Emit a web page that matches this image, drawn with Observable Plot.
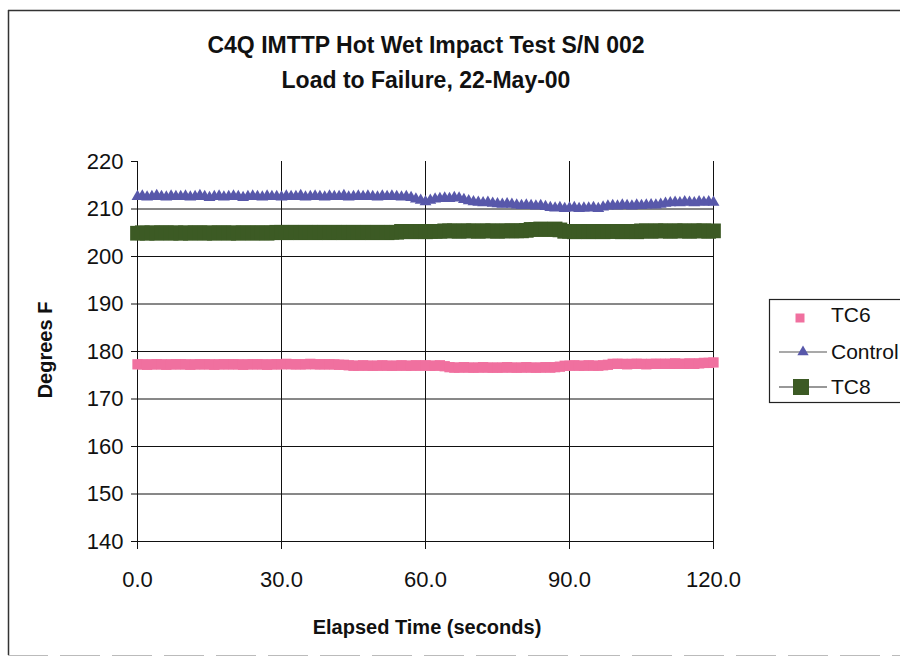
<!DOCTYPE html>
<html>
<head>
<meta charset="utf-8">
<script src="https://cdn.jsdelivr.net/npm/d3@7"></script>
<script src="https://cdn.jsdelivr.net/npm/@observablehq/plot@0.6"></script>
<style>
  body { margin: 0; background: #fff; }
  #wrap { position: relative; width: 900px; height: 662px; overflow: hidden; background: #fff;
          font-family: "Liberation Sans", Arial, sans-serif; }
  #wrap > svg { position: absolute; left: 0; top: 0; }
</style>
</head>
<body>
<div id="wrap"></div>
<script>
// ---- data ----
const titleLines = ["C4Q IMTTP Hot Wet Impact Test S/N 002", "Load to Failure, 22-May-00"];
const xLabel = "Elapsed Time (seconds)";
const yLabel = "Degrees F";
const seriesNames = ["TC6", "Control", "TC8"];
const xTicks = [0, 30, 60, 90, 120];
const yTicks = [140, 150, 160, 170, 180, 190, 200, 210, 220];

const time = [
  0,1,2,3,4,5,6,7,8,9,
  10,11,12,13,14,15,16,17,18,19,
  20,21,22,23,24,25,26,27,28,29,
  30,31,32,33,34,35,36,37,38,39,
  40,41,42,43,44,45,46,47,48,49,
  50,51,52,53,54,55,56,57,58,59,
  60,61,62,63,64,65,66,67,68,69,
  70,71,72,73,74,75,76,77,78,79,
  80,81,82,83,84,85,86,87,88,89,
  90,91,92,93,94,95,96,97,98,99,
  100,101,102,103,104,105,106,107,108,109,
  110,111,112,113,114,115,116,117,118,119,120
];

const tc6 = [
  177.3,177.3,177.2,177.3,177.3,177.3,177.2,177.3,177.3,177.3,
  177.3,177.2,177.3,177.3,177.3,177.3,177.2,177.3,177.3,177.3,
  177.3,177.3,177.2,177.3,177.3,177.3,177.3,177.2,177.3,177.3,
  177.3,177.4,177.3,177.3,177.3,177.3,177.4,177.3,177.3,177.3,
  177.3,177.3,177.2,177.2,177.1,177.0,177.0,177.1,177.0,177.0,
  177.0,177.1,177.0,177.0,177.0,177.1,177.0,177.0,177.1,177.0,
  177.1,177.0,177.0,177.1,176.9,176.7,176.6,176.6,176.7,176.6,
  176.6,176.6,176.7,176.6,176.6,176.6,176.6,176.7,176.6,176.6,
  176.6,176.7,176.6,176.6,176.6,176.7,176.6,176.7,176.8,177.0,
  177.0,177.1,177.0,177.0,177.1,177.0,177.0,177.1,177.2,177.4,
  177.4,177.4,177.3,177.4,177.4,177.4,177.3,177.4,177.4,177.4,
  177.4,177.4,177.5,177.4,177.4,177.5,177.4,177.5,177.6,177.6,177.7
];

const control = [
  212.6,212.7,212.5,212.6,212.8,212.6,212.5,212.7,212.6,212.6,
  212.7,212.5,212.6,212.8,212.6,212.4,212.6,212.7,212.5,212.6,
  212.7,212.6,212.4,212.6,212.7,212.6,212.5,212.7,212.6,212.6,
  212.5,212.7,212.6,212.6,212.8,212.5,212.6,212.7,212.6,212.5,
  212.7,212.6,212.6,212.8,212.5,212.6,212.7,212.6,212.7,212.6,
  212.5,212.7,212.6,212.7,212.6,212.5,212.6,212.4,212.1,211.8,
  211.5,211.8,212.1,212.2,212.3,212.2,212.4,212.3,212.0,211.7,
  211.5,211.4,211.3,211.4,211.2,211.1,211.0,211.1,211.0,210.8,
  210.7,210.8,210.7,210.6,210.7,210.5,210.3,210.2,210.3,210.1,
  210.2,210.3,210.1,210.2,210.2,210.3,210.1,210.4,210.6,210.7,
  210.6,210.8,210.7,210.6,210.8,210.7,210.8,210.9,210.8,211.0,
  211.2,211.3,211.4,211.3,211.5,211.4,211.3,211.5,211.4,211.5,211.4
];

const tc8 = [
  204.9,205.0,204.9,205.0,204.9,205.0,205.0,204.9,205.0,204.9,
  205.0,204.9,205.0,205.0,204.9,205.0,204.9,205.0,205.0,204.9,
  205.0,204.9,205.0,205.0,204.9,205.0,205.0,204.9,205.0,205.1,
  205.1,205.0,205.1,205.1,205.0,205.1,205.1,205.0,205.1,205.1,
  205.0,205.1,205.1,205.0,205.1,205.1,205.0,205.1,205.1,205.0,
  205.1,205.1,205.0,205.1,205.1,205.3,205.3,205.2,205.3,205.3,
  205.2,205.3,205.3,205.3,205.4,205.4,205.4,205.3,205.4,205.4,
  205.4,205.3,205.4,205.4,205.4,205.3,205.4,205.4,205.4,205.4,
  205.4,205.5,205.7,205.7,205.8,205.7,205.7,205.8,205.6,205.3,
  205.3,205.2,205.3,205.3,205.2,205.3,205.3,205.2,205.3,205.3,
  205.3,205.2,205.3,205.3,205.2,205.4,205.4,205.3,205.4,205.4,
  205.4,205.3,205.4,205.4,205.4,205.3,205.4,205.4,205.4,205.3,205.4
];

// ---- styles ----
const PINK = "#f0709f", BLUE = "#5858aa", GREEN = "#3c5a24", INK = "#111";
const FONT = "'Liberation Sans', Arial, sans-serif";

const rows = (vals) => time.map((t, i) => ({t, v: vals[i]}));
const dTC6 = rows(tc6), dCtl = rows(control), dTC8 = rows(tc8);

const chart = Plot.plot({
  width: 900, height: 662,
  marginLeft: 137, marginRight: 187, marginTop: 161, marginBottom: 121,
  style: {fontFamily: FONT, background: "transparent", color: INK, overflow: "visible"},
  x: {domain: [0, 120]},
  y: {domain: [140, 220]},
  marks: [
    Plot.ruleY(yTicks.filter(d => d < 220), {stroke: INK, strokeWidth: 1}),
    Plot.ruleX(xTicks, {y1: 140, y2: 220, stroke: INK, strokeWidth: 1}),
    Plot.axisY(yTicks, {tickSize: 6, tickPadding: 8, fontSize: 22, label: null, stroke: INK}),
    Plot.axisX(xTicks, {tickSize: 8, tickPadding: 22, fontSize: 22, label: null, stroke: INK,
                        tickFormat: d3.format(".1f")}),
    Plot.dot(dTC6, {x: "t", y: "v", symbol: "square", r: 5.8, fill: PINK, stroke: "none"}),
    Plot.line(dTC8, {x: "t", y: "v", stroke: GREEN, strokeWidth: 1.5}),
    Plot.dot(dTC8, {x: "t", y: "v", symbol: "square", r: 8.3, fill: GREEN, stroke: "none"}),
    Plot.line(dCtl, {x: "t", y: "v", stroke: BLUE, strokeWidth: 2}),
    Plot.dot(dCtl, {x: "t", y: "v", symbol: "triangle", r: 4.4, fill: BLUE, stroke: "none"})
  ]
});

const wrap = document.getElementById("wrap");

// overlay: frame, titles, axis labels, legend
const ov = d3.create("svg").attr("width", 900).attr("height", 662)
  .style("font-family", FONT);
ov.append("line").attr("x1", 8).attr("x2", 900).attr("y1", 10.5).attr("y2", 10.5)
  .attr("stroke", "#333").attr("stroke-width", 1.5);
ov.append("line").attr("x1", 8.5).attr("x2", 8.5).attr("y1", 10).attr("y2", 655)
  .attr("stroke", "#333").attr("stroke-width", 1.5);
ov.append("line").attr("x1", 8).attr("x2", 900).attr("y1", 655.5).attr("y2", 655.5)
  .attr("stroke", "#bbb").attr("stroke-width", 1).attr("stroke-dasharray", "40 12");

ov.selectAll("text.title").data(titleLines).join("text")
  .attr("x", 426).attr("y", (d, i) => 53 + i * 35)
  .attr("text-anchor", "middle").attr("font-weight", "bold").attr("font-size", 23)
  .attr("fill", INK).text(d => d);

ov.append("text").attr("x", 427).attr("y", 634).attr("text-anchor", "middle")
  .attr("font-weight", "bold").attr("font-size", 20).attr("fill", INK).text(xLabel);
ov.append("text").attr("transform", "translate(52,350) rotate(-90)").attr("text-anchor", "middle")
  .attr("font-weight", "bold").attr("font-size", 20).attr("fill", INK).text(yLabel);

// legend
const lg = ov.append("g");
lg.append("rect").attr("x", 769.5).attr("y", 299.5).attr("width", 200).attr("height", 103)
  .attr("fill", "#fff").attr("stroke", "#222").attr("stroke-width", 1.2);
const legendY = [318, 352, 387];
const sym = (type, area) => d3.symbol().type(type).size(area)();
// TC6
lg.append("path").attr("d", sym(d3.symbolSquare, 81)).attr("transform", `translate(800,${legendY[0]})`).attr("fill", PINK);
// Control
lg.append("line").attr("x1", 779).attr("x2", 827).attr("y1", legendY[1]).attr("y2", legendY[1]).attr("stroke", "#555").attr("stroke-width", 1.2);
lg.append("path").attr("d", sym(d3.symbolTriangle, 55)).attr("transform", `translate(803,${legendY[1]})`).attr("fill", BLUE);
// TC8
lg.append("line").attr("x1", 779).attr("x2", 827).attr("y1", legendY[2]).attr("y2", legendY[2]).attr("stroke", "#333").attr("stroke-width", 1.2);
lg.append("path").attr("d", sym(d3.symbolSquare, 256)).attr("transform", `translate(801,${legendY[2]})`).attr("fill", GREEN);
lg.selectAll("text").data(seriesNames).join("text")
  .attr("x", 831).attr("y", (d, i) => legendY[i] + 7 - (i === 0 ? 3 : 0))
  .attr("font-size", 21).attr("fill", INK).text(d => d);

wrap.appendChild(chart);
wrap.appendChild(ov.node());
</script>
</body>
</html>
